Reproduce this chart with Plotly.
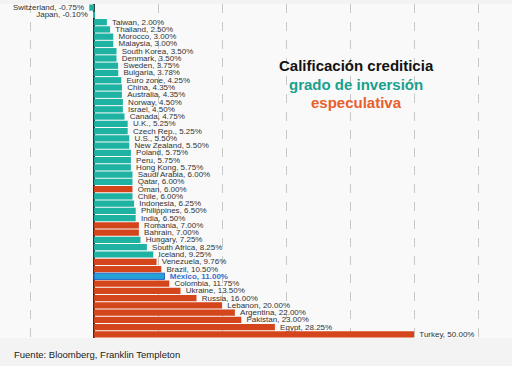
import plotly.graph_objects as go

countries = ["Switzerland", "Japan", "Taiwan", "Thailand", "Morocco", "Malaysia", "South Korea",
             "Denmark", "Sweden", "Bulgaria", "Euro zone", "China", "Australia", "Norway", "Israel",
             "Canada", "U.K.", "Czech Rep.", "U.S.", "New Zealand", "Poland", "Peru", "Hong Kong",
             "Saudi Arabia", "Qatar", "Oman", "Chile", "Indonesia", "Philippines", "India", "Romania",
             "Bahrain", "Hungary", "South Africa", "Iceland", "Venezuela", "Brazil", "México",
             "Colombia", "Ukraine", "Russia", "Lebanon", "Argentina", "Pakistan", "Egypt", "Turkey"]
values = [-0.75, -0.10, 2.00, 2.50, 3.00, 3.00, 3.50, 3.50, 3.75, 3.78, 4.25, 4.35, 4.35, 4.50, 4.50,
          4.75, 5.25, 5.25, 5.50, 5.50, 5.75, 5.75, 5.75, 6.00, 6.00, 6.00, 6.00, 6.25, 6.50, 6.50,
          7.00, 7.00, 7.25, 8.25, 9.25, 9.76, 10.50, 11.00, 11.75, 13.50, 16.00, 20.00, 22.00,
          23.00, 28.25, 50.00]
# grade: I = grado de inversión, S = especulativa, M = México
grades = ["I"] * 25 + ["S", "I", "I", "I", "I", "S", "S", "I", "I", "I", "S", "S", "M",
                       "S", "S", "S", "S", "S", "S", "S", "S"]

TEAL = "#1db2a2"
ORANGE = "#d5451b"
BLUE = "#22a2d8"
color_map = {"I": TEAL, "S": ORANGE, "M": BLUE}

bar_colors = [color_map[g] for g in grades]
line_colors = ["#2a63c4" if g == "M" else "rgba(0,0,0,0)" for g in grades]
line_widths = [1 if g == "M" else 0 for g in grades]
labels = []
text_colors = []
NB = "\u00a0"
for c, v, g in zip(countries, values, grades):
    t = f"{c}, {v:.2f}%"
    if g == "M":
        t = f"<b>{t}</b>"
        text_colors.append("#3a6fd0")
    else:
        text_colors.append("#333333")
    labels.append(NB + t if v >= 0 else t + NB)

fig = go.Figure(go.Bar(
    y=countries, x=values, orientation="h",
    marker=dict(color=bar_colors, line=dict(color=line_colors, width=line_widths)),
    text=labels, textposition="outside", cliponaxis=False, constraintext="none",
    textfont=dict(family="Liberation Sans, Arial, sans-serif", size=8, color=text_colors),
    hoverinfo="skip",
))

fig.update_layout(
    width=512, height=366,
    margin=dict(l=0, r=0, t=4, b=28),
    paper_bgcolor="#f3f3f3",
    plot_bgcolor="#f9f9f9",
    showlegend=False,
    bargap=0.14,
    font=dict(family="Liberation Sans, Arial, sans-serif"),
    xaxis=dict(range=[-14.7, 65.3], dtick=10, showgrid=True, gridcolor="#c8c8c8",
               griddash="dash", gridwidth=1, zeroline=True, zerolinecolor="#333333",
               zerolinewidth=1.5, showticklabels=False, ticks=""),
    yaxis=dict(autorange="reversed", showticklabels=False, ticks="", showgrid=False),
)

ann = [("<b>Calificación crediticia</b>", 65, "#111111"),
       ("<b>grado de inversión</b>", 85, "#1aa08e"),
       ("<b>especulativa</b>", 102, "#e8602c")]
for t, ypx, col in ann:
    fig.add_annotation(text=t, x=356 / 512, y=1 - (ypx - 4) / 334, xref="paper", yref="paper",
                       xanchor="center", yanchor="middle", showarrow=False,
                       font=dict(size=15, color=col, family="Liberation Sans, Arial, sans-serif"))

fig.add_annotation(text="Fuente: Bloomberg, Franklin Templeton", x=12 / 512, y=-(355 - 338) / 334,
                   xref="paper", yref="paper", xanchor="left", yanchor="middle", showarrow=False,
                   font=dict(size=9.5, color="#222222"))

fig.write_html("out.html", config={"displayModeBar": False},
               post_script="document.body.style.margin='0';document.body.style.padding='0';")
